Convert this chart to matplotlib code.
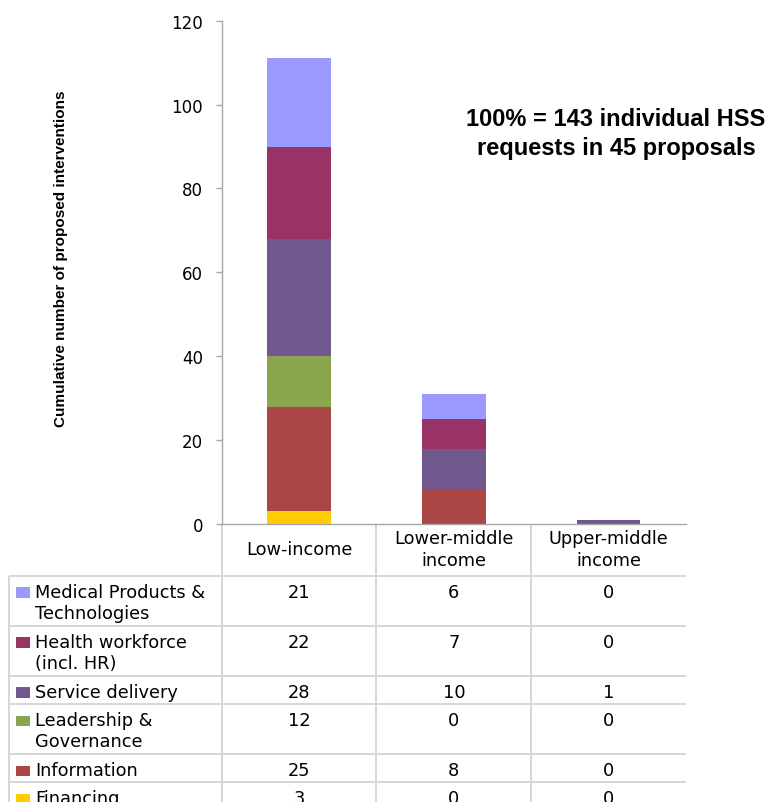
import matplotlib
matplotlib.use("Agg")
import matplotlib.pyplot as plt
from matplotlib.patches import Rectangle

# Figure size in pixels
W, H = 769, 803

# ---- data ----
income_groups = ["Low-income", "Lower-middle\nincome", "Upper-middle\nincome"]
categories = [
    "Financing",
    "Information",
    "Leadership &\nGovernance",
    "Service delivery",
    "Health workforce\n(incl. HR)",
    "Medical Products &\nTechnologies",
]
colors = ["#FFCC00", "#AA4643", "#89A54E", "#71588F", "#993366", "#9999FF"]

financing = [3, 0, 0]
information = [25, 8, 0]
leadership = [12, 0, 0]
service_delivery = [28, 10, 1]
health_workforce = [22, 7, 0]
medical_products = [21, 6, 0]

y_ticks = [0, 20, 40, 60, 80, 100, 120]
note_text = "100% = 143 individual HSS\nrequests in 45 proposals"
y_label = "Cumulative number of proposed interventions"

series = [financing, information, leadership, service_delivery,
          health_workforce, medical_products]

# ---- styles ----
AXIS_GREY = "#A6A6A6"
GRID_GREY = "#D6D6D6"
TABLE_FONT = ["DejaVu Sans"]
TITLE_FONT = ["Liberation Sans", "DejaVu Sans"]
TABLE_SIZE = 12.8
LINE_STEP = 21.3   # px between baselines inside a cell

fig = plt.figure(figsize=(W / 100, H / 100), dpi=100)

# background axes in pixel coordinates (origin top-left) for the data table
tax = fig.add_axes([0, 0, 1, 1], zorder=0)
tax.set_xlim(0, W)
tax.set_ylim(H, 0)
tax.axis("off")

# plot area of the stacked bar chart
ax_left, ax_right, ax_top, ax_bottom = 221.7, 686.0, 21.7, 525.0
ax = fig.add_axes([ax_left / W, (H - ax_bottom) / H,
                   (ax_right - ax_left) / W, (ax_bottom - ax_top) / H], zorder=2)
ax.patch.set_alpha(0)

x = list(range(len(income_groups)))
bottom = [0] * len(x)
for vals, col, name in zip(series, colors, categories):
    ax.bar(x, vals, width=0.41, bottom=bottom, color=col, edgecolor="none",
           label=name)
    bottom = [b + v for b, v in zip(bottom, vals)]

ax.set_xlim(-0.5, len(x) - 0.5)
ax.set_ylim(0, 120)
ax.set_yticks(y_ticks)
ax.set_yticklabels([str(t) for t in y_ticks], fontsize=12, family=TABLE_FONT)
ax.set_xticks([])
for side in ("top", "right"):
    ax.spines[side].set_visible(False)
for side in ("left", "bottom"):
    ax.spines[side].set_color(AXIS_GREY)
    ax.spines[side].set_linewidth(1.0)
ax.tick_params(axis="y", direction="out", length=4.5, width=1.0,
               color=AXIS_GREY, labelcolor="black", pad=9)

fig.text(616 / W, 1 - 134 / H, note_text, ha="center", va="center",
         fontsize=17, fontweight="bold", family=TITLE_FONT, linespacing=1.3)

fig.text(61 / W, 1 - 259 / H, y_label, rotation=90, ha="center", va="center",
         fontsize=11, fontweight="bold", family=TITLE_FONT)


def cell_text(xp, first_baseline, text, ha):
    """Write a (possibly multi-line) cell label, one line per baseline."""
    for k, line in enumerate(text.split("\n")):
        tax.text(xp, first_baseline + k * LINE_STEP, line, ha=ha,
                 va="baseline", fontsize=TABLE_SIZE, family=TABLE_FONT)


# ---- data table below the chart ----
fig.canvas.draw()


def col_px(v):
    return ax.transData.transform((v, 0))[0]


col_edges = [col_px(i - 0.5) for i in range(len(x) + 1)]
col_centers = [col_px(i) for i in x]
table_left = 9.0
table_right = col_edges[-1]

header_top = ax_bottom
header_h = 51.7
row_h = {1: 28.2, 2: 50.0}

# header labels, vertically centred in the header row
for cx, lab in zip(col_centers, income_groups):
    n = lab.count("\n") + 1
    first = header_top + 30 - (n - 1) * LINE_STEP / 2
    cell_text(cx, first, lab, "center")

# column separators
for ex in col_edges[:-1]:
    tax.plot([ex, ex], [header_top, H + 20], color=GRID_GREY, lw=1.4,
             solid_capstyle="butt")
tax.plot([table_left, table_left], [header_top + header_h, H + 20],
         color=GRID_GREY, lw=1.4, solid_capstyle="butt")

y = header_top + header_h
for name, col, vals in reversed(list(zip(categories, colors, series))):
    tax.plot([table_left, table_right], [y, y], color=GRID_GREY, lw=1.4,
             solid_capstyle="butt")
    tax.add_patch(Rectangle((16, y + 11.6), 14, 10.7, facecolor=col,
                            edgecolor="none"))
    cell_text(35, y + 21, name, "left")
    for cx, v in zip(col_centers, vals):
        cell_text(cx, y + 21, str(v), "center")
    y += row_h[name.count("\n") + 1]

fig.savefig("out.png", dpi=100)
